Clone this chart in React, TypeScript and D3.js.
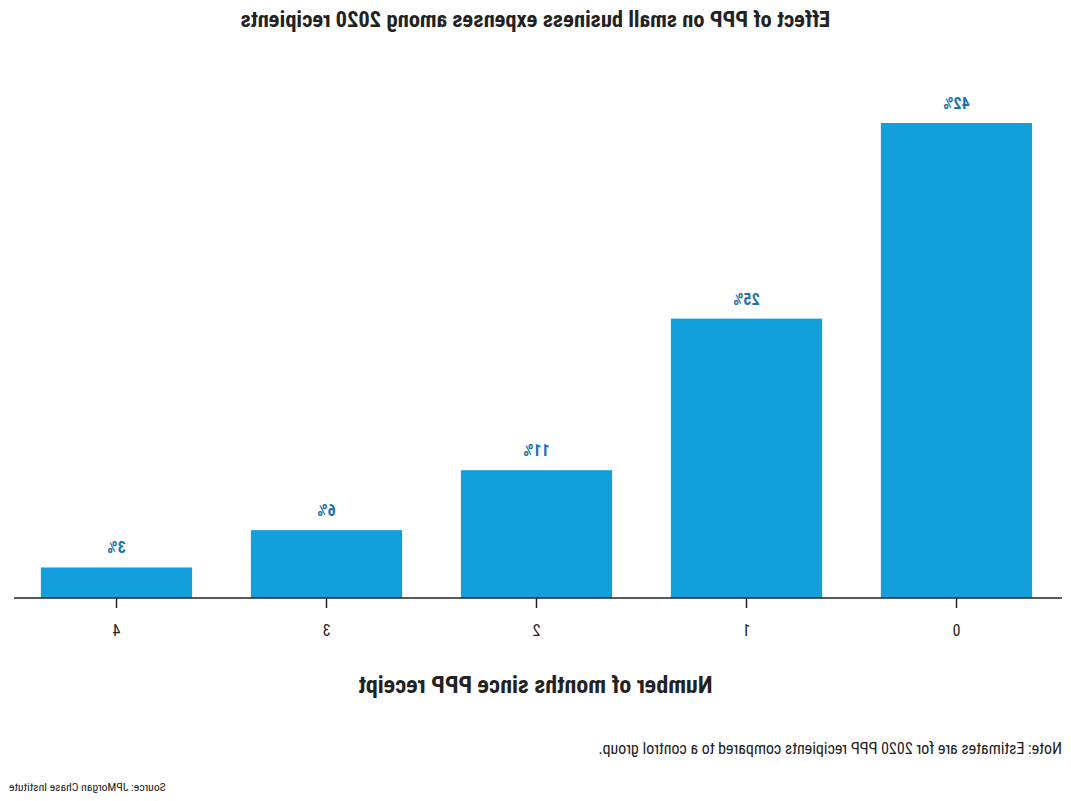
import React, { useEffect, useRef } from "react";
import * as d3 from "d3";

const width = 1071;
const height = 801;
const margin = { top: 60, right: 12, bottom: 203, left: 10 };

// months since PPP receipt, and the effect on expenses (%)
const months = ["0", "1", "2", "3", "4"];
const effect = [42.0, 24.7, 11.3, 6.0, 2.7];
const labels = ["42%", "25%", "11%", "6%", "3%"];

const title = "Effect of PPP on small business expenses among 2020 recipients";
const xTitle = "Number of months since PPP receipt";
const note = "Note: Estimates are for 2020 PPP recipients compared to a control group.";
const source = "Source: JPMorgan Chase Institute";

const font = "'Liberation Sans Narrow', 'Roboto Condensed', Roboto, sans-serif";
const barColor = "#129fdb";
const labelColor = "#1c72ad";

const App = () => {
  const xAxisRef = useRef<SVGGElement>(null);

  const baseline = height - margin.bottom;

  const xScale = d3
    .scaleBand()
    .domain(months)
    .range([9.5, 1059.5])
    .paddingInner(0.28)
    .paddingOuter(0.14);

  const yScale = d3
    .scaleLinear()
    .domain([0, 42])
    .range([baseline, 123]);

  useEffect(() => {
    const axis = d3.axisBottom(xScale).tickSize(10).tickSizeOuter(0);
    const g = d3.select(xAxisRef.current);
    g.call(axis);
    g.select(".domain").remove();
    g.selectAll(".tick line").attr("stroke", "#222").attr("stroke-width", 1.5);
    g.selectAll(".tick text")
      .attr("y", 27)
      .attr("font-family", font)
      .attr("font-size", 16)
      .attr("fill", "#222");
  }, []);

  return (
    <svg
      width={width}
      height={height}
      style={{ position: "absolute", left: 0, top: 0, background: "#fff" }}
    >
      <g transform={`translate(${width},0) scale(-1,1)`}>
        <text
          x={width / 2}
          y={27}
          textAnchor="middle"
          fontFamily={font}
          fontWeight="bold"
          fontSize={22.5}
          fill="#222"
        >
          {title}
        </text>

        {months.map((m, i) => (
          <g key={m}>
            <rect
              x={xScale(m)}
              y={yScale(effect[i])}
              width={xScale.bandwidth()}
              height={baseline - yScale(effect[i])}
              fill={barColor}
            />
            <text
              x={(xScale(m) ?? 0) + xScale.bandwidth() / 2}
              y={yScale(effect[i]) - 14}
              textAnchor="middle"
              fontFamily={font}
              fontWeight="bold"
              fontSize={16}
              fill={labelColor}
            >
              {labels[i]}
            </text>
          </g>
        ))}

        <line x1={9} x2={1057} y1={baseline} y2={baseline} stroke="#222" strokeWidth={1.5} />
        <g ref={xAxisRef} transform={`translate(0, ${baseline})`} />

        <text
          x={width / 2}
          y={693}
          textAnchor="middle"
          fontFamily={font}
          fontWeight="bold"
          fontSize={24}
          fill="#222"
        >
          {xTitle}
        </text>

        <text x={9} y={754} fontFamily={font} fontSize={16} fill="#222">
          {note}
        </text>
        <text x={1062} y={791} textAnchor="end" fontFamily={font} fontSize={11.7} fill="#222">
          {source}
        </text>
      </g>
    </svg>
  );
};

export default App;
